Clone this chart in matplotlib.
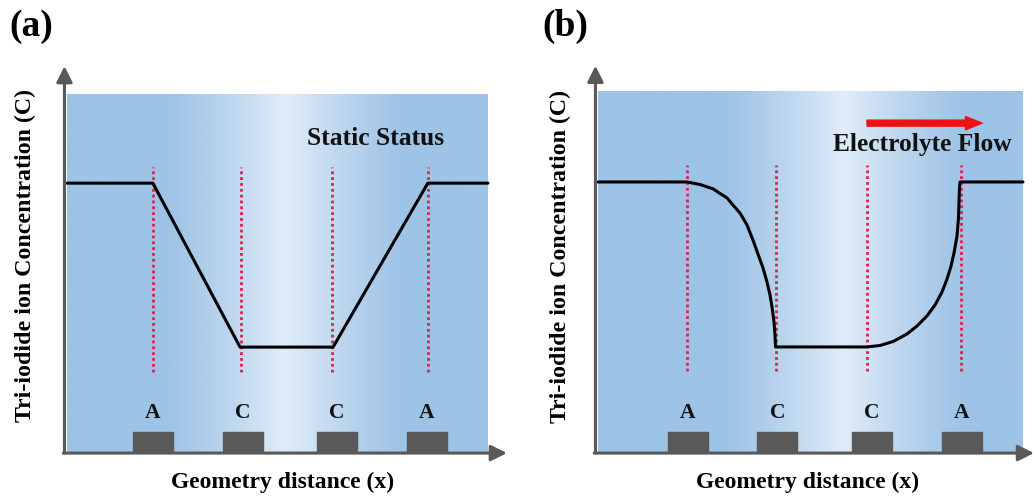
import numpy as np
import matplotlib
matplotlib.use("Agg")
import matplotlib.pyplot as plt
from matplotlib.colors import LinearSegmentedColormap

plt.rcParams['font.family'] = ['Liberation Serif', 'DejaVu Serif']
plt.rcParams['font.weight'] = 'bold'

# electrodes: A C C A
electrode_labels = ['A', 'C', 'C', 'A']
electrodes_a = [2.04, 4.18, 6.41, 8.55]
electrodes_b = [2.11, 4.22, 6.45, 8.56]
edges_a = [2.04, 4.13, 6.30, 8.57]     # red dotted lines
edges_b = [2.09, 4.19, 6.33, 8.54]

# static status: piecewise linear concentration
xa = [0, 2.04, 4.11, 6.32, 8.57, 10]
ya = [0.751, 0.751, 0.293, 0.293, 0.751, 0.751]

# electrolyte flow: skewed profile
xb = [0, 2.094, 2.400, 2.706, 2.871, 3.035, 3.176, 3.341, 3.506, 3.647, 3.765,
      3.882, 3.976, 4.047, 4.094, 4.141, 4.165, 4.176,
      6.329, 6.635, 6.941, 7.271, 7.506, 7.741, 7.929, 8.094, 8.212, 8.306,
      8.376, 8.447, 8.482, 8.494, 8.506, 8.518, 10]
yb = [0.748, 0.748, 0.741, 0.729, 0.716, 0.704, 0.684, 0.662, 0.629, 0.587, 0.548,
      0.510, 0.471, 0.435, 0.402, 0.360, 0.324, 0.291,
      0.291, 0.295, 0.306, 0.327, 0.349, 0.377, 0.407, 0.443, 0.479, 0.515,
      0.551, 0.598, 0.648, 0.693, 0.731, 0.748, 0.748]

dark = '#9DC3E6'
light = '#E0ECF8'
axis_col = '#595959'
red_dot = '#D8234F'


def make_cmap(mid):
    return LinearSegmentedColormap.from_list(
        'bg', [(0, dark), (mid - 0.28, dark), (mid - 0.14, '#BBD5EE'),
               (mid, light), (mid + 0.14, '#BBD5EE'), (mid + 0.28, dark), (1, dark)])


def panel(ax, xs, ys, edges, elecs, mid, xtip, ytip):
    grad = np.linspace(0, 1, 600).reshape(1, -1)
    ax.imshow(grad, cmap=make_cmap(mid), aspect='auto', extent=(0, 10, 0, 1),
              zorder=0, interpolation='bilinear')
    ax.set_xlim(0, 10)
    ax.set_ylim(0, 1)
    ax.axis('off')

    for e in edges:
        ax.plot([e, e], [0.223, 0.796], color=red_dot, lw=2.0,
                linestyle=(0, (1, 1.1)), zorder=2)
    ax.plot(xs, ys, color='black', lw=2.2, zorder=3, solid_joinstyle='round',
            solid_capstyle='round', clip_on=False)

    for c, lab in zip(elecs, electrode_labels):
        ax.add_patch(plt.Rectangle((c - 0.47, 0), 0.94, 0.056, color=axis_col,
                                   zorder=2, clip_on=False))
        ax.text(c, 0.109, lab, ha='center', va='center', fontsize=15.5,
                fontweight='bold', color='#111111')

    # axes arrows
    x0 = -0.06
    ax.annotate('', xy=(x0, ytip), xytext=(x0, -0.003),
                arrowprops=dict(arrowstyle='-|>', lw=2.2, color=axis_col,
                                mutation_scale=24, shrinkA=0, shrinkB=0),
                annotation_clip=False, zorder=4)
    ax.annotate('', xy=(xtip, -0.003), xytext=(x0 - 0.03, -0.003),
                arrowprops=dict(arrowstyle='-|>', lw=2.2, color=axis_col,
                                mutation_scale=24, shrinkA=0, shrinkB=0),
                annotation_clip=False, zorder=4)


fig = plt.figure(figsize=(10.34, 5.01), dpi=100)
ax1 = fig.add_axes([67 / 1034, 49 / 501, 421 / 1034, 358 / 501])
ax2 = fig.add_axes([598 / 1034, 49 / 501, 425 / 1034, 361 / 501])

panel(ax1, xa, ya, edges_a, electrodes_a, 0.52, 10.45, 1.078)
panel(ax2, xb, yb, edges_b, electrodes_b, 0.58, 10.26, 1.07)

ax1.text(7.32, 0.877, 'Static Status', ha='center', va='center', fontsize=18.4,
         fontweight='bold', color='#111111')
ax2.text(7.64, 0.853, 'Electrolyte Flow', ha='center', va='center', fontsize=18.4,
         fontweight='bold', color='#111111')
ax2.annotate('', xy=(9.04, 0.911), xytext=(6.33, 0.911),
             arrowprops=dict(arrowstyle='simple,head_width=0.95,head_length=1.2,tail_width=0.43',
                             color='#EE1111', mutation_scale=10, shrinkA=0, shrinkB=0))

ylab = 'Tri-iodide ion Concentration (C)'
xlab = 'Geometry distance (x)'
fig.text(25 / 1034, 0.491, ylab, rotation=90, ha='center', va='center',
         fontsize=17.2, fontweight='bold')
fig.text(560 / 1034, 0.489, ylab, rotation=90, ha='center', va='center',
         fontsize=17.2, fontweight='bold')
fig.text(283 / 1034, 1 - 482 / 501, xlab, ha='center', va='center',
         fontsize=17, fontweight='bold')
fig.text(808 / 1034, 1 - 482 / 501, xlab, ha='center', va='center',
         fontsize=17, fontweight='bold')

fig.text(31 / 1034, 1 - 26 / 501, '(a)', ha='center', va='center', fontsize=27,
         fontweight='bold')
fig.text(565 / 1034, 1 - 26 / 501, '(b)', ha='center', va='center', fontsize=27,
         fontweight='bold')

fig.savefig('out.png', dpi=100)
